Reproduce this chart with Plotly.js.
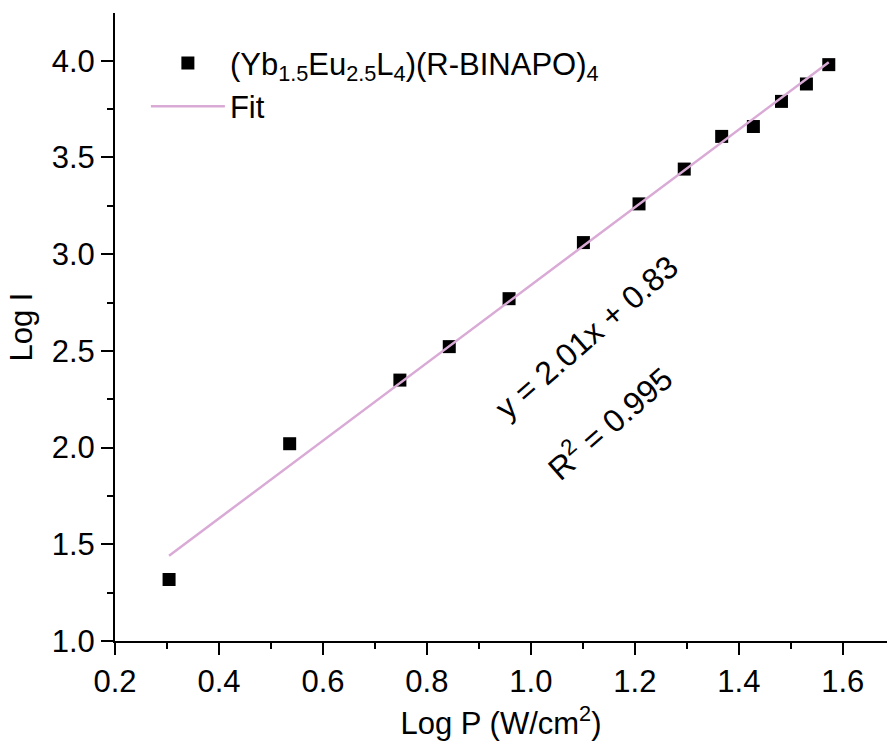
<!DOCTYPE html>
<html>
<head>
<meta charset="utf-8">
<script src="https://cdn.plot.ly/plotly-3.0.1.min.js"></script>
<style>html,body{margin:0;padding:0;background:#fff;}#chart{width:887px;height:753px;}</style>
</head>
<body>
<div id="chart"></div>
<script>
// Data
const logP = [0.304, 0.536, 0.748, 0.843, 0.958, 1.101, 1.208, 1.295, 1.367, 1.428, 1.482, 1.530, 1.573];
const logI = [1.318, 2.020, 2.349, 2.522, 2.770, 3.060, 3.260, 3.440, 3.609, 3.660, 3.790, 3.880, 3.980];
const fitX = [0.304, 1.573];
const fitY = [1.441, 3.992];
const seriesName = '(Yb<sub>1.5</sub>Eu<sub>2.5</sub>L<sub>4</sub>)(R-BINAPO)<sub>4</sub>';
const fitName = 'Fit';
const eqText = 'y = 2.01x + 0.83';
const r2Text = 'R<sup>2</sup> = 0.995';
const xTicks = [0.2, 0.4, 0.6, 0.8, 1.0, 1.2, 1.4, 1.6];
const xTickLabels = ['0.2', '0.4', '0.6', '0.8', '1.0', '1.2', '1.4', '1.6'];
const yTicks = [1.0, 1.5, 2.0, 2.5, 3.0, 3.5, 4.0];
const yTickLabels = ['1.0', '1.5', '2.0', '2.5', '3.0', '3.5', '4.0'];

const FONT = 'Liberation Sans, Arial, sans-serif';
const lineColor = 'rgb(218,170,214)';

const traces = [
  {
    x: logP, y: logI, type: 'scatter', mode: 'markers', name: seriesName,
    marker: {symbol: 'square', size: 13, color: 'black'},
    cliponaxis: false
  },
  {
    x: fitX, y: fitY, type: 'scatter', mode: 'lines', name: fitName,
    line: {color: lineColor, width: 2.5}
  }
];

const axisCommon = {
  showgrid: false, zeroline: false, showline: true, linecolor: 'black', linewidth: 2,
  ticks: 'outside', ticklen: 12, tickwidth: 2, tickcolor: 'black',
  tickfont: {family: FONT, size: 31, color: 'black'},
  mirror: false
};

const layout = {
  width: 887, height: 753,
  margin: {l: 115, r: 0, t: 13, b: 112},
  paper_bgcolor: 'white', plot_bgcolor: 'white',
  font: {family: FONT, color: 'black'},
  showlegend: true,
  legend: {
    x: 0.040, y: 0.963, xanchor: 'left', yanchor: 'top',
    bgcolor: 'rgba(0,0,0,0)', borderwidth: 0,
    font: {family: FONT, size: 31, color: 'black'},
    itemwidth: 74, tracegroupgap: 0
  },
  xaxis: Object.assign({}, axisCommon, {
    range: [0.2, 1.685],
    tickmode: 'array', tickvals: xTicks, ticktext: xTickLabels,
    minor: {dtick: 0.1, tick0: 0.1, ticks: 'outside', ticklen: 6, tickwidth: 2, tickcolor: 'black'},
    title: {text: 'Log P (W/cm<sup>2</sup>)', font: {family: FONT, size: 31, color: 'black'}, standoff: 14}
  }),
  yaxis: Object.assign({}, axisCommon, {
    range: [1.0, 4.247],
    tickmode: 'array', tickvals: yTicks, ticktext: yTickLabels,
    minor: {dtick: 0.25, tick0: 0.25, ticks: 'outside', ticklen: 6, tickwidth: 2, tickcolor: 'black'},
    title: {text: 'Log I', font: {family: FONT, size: 31, color: 'black'}, standoff: 10}
  }),
  annotations: [
    {x: 1.108, y: 2.57, xref: 'x', yref: 'y', text: eqText, showarrow: false, textangle: -41,
     font: {family: FONT, size: 32, color: 'black'}},
    {x: 1.150, y: 2.13, xref: 'x', yref: 'y', text: r2Text, showarrow: false, textangle: -41,
     font: {family: FONT, size: 32, color: 'black'}}
  ]
};

Plotly.newPlot('chart', traces, layout, {displayModeBar: false, staticPlot: true});
</script>
</body>
</html>
